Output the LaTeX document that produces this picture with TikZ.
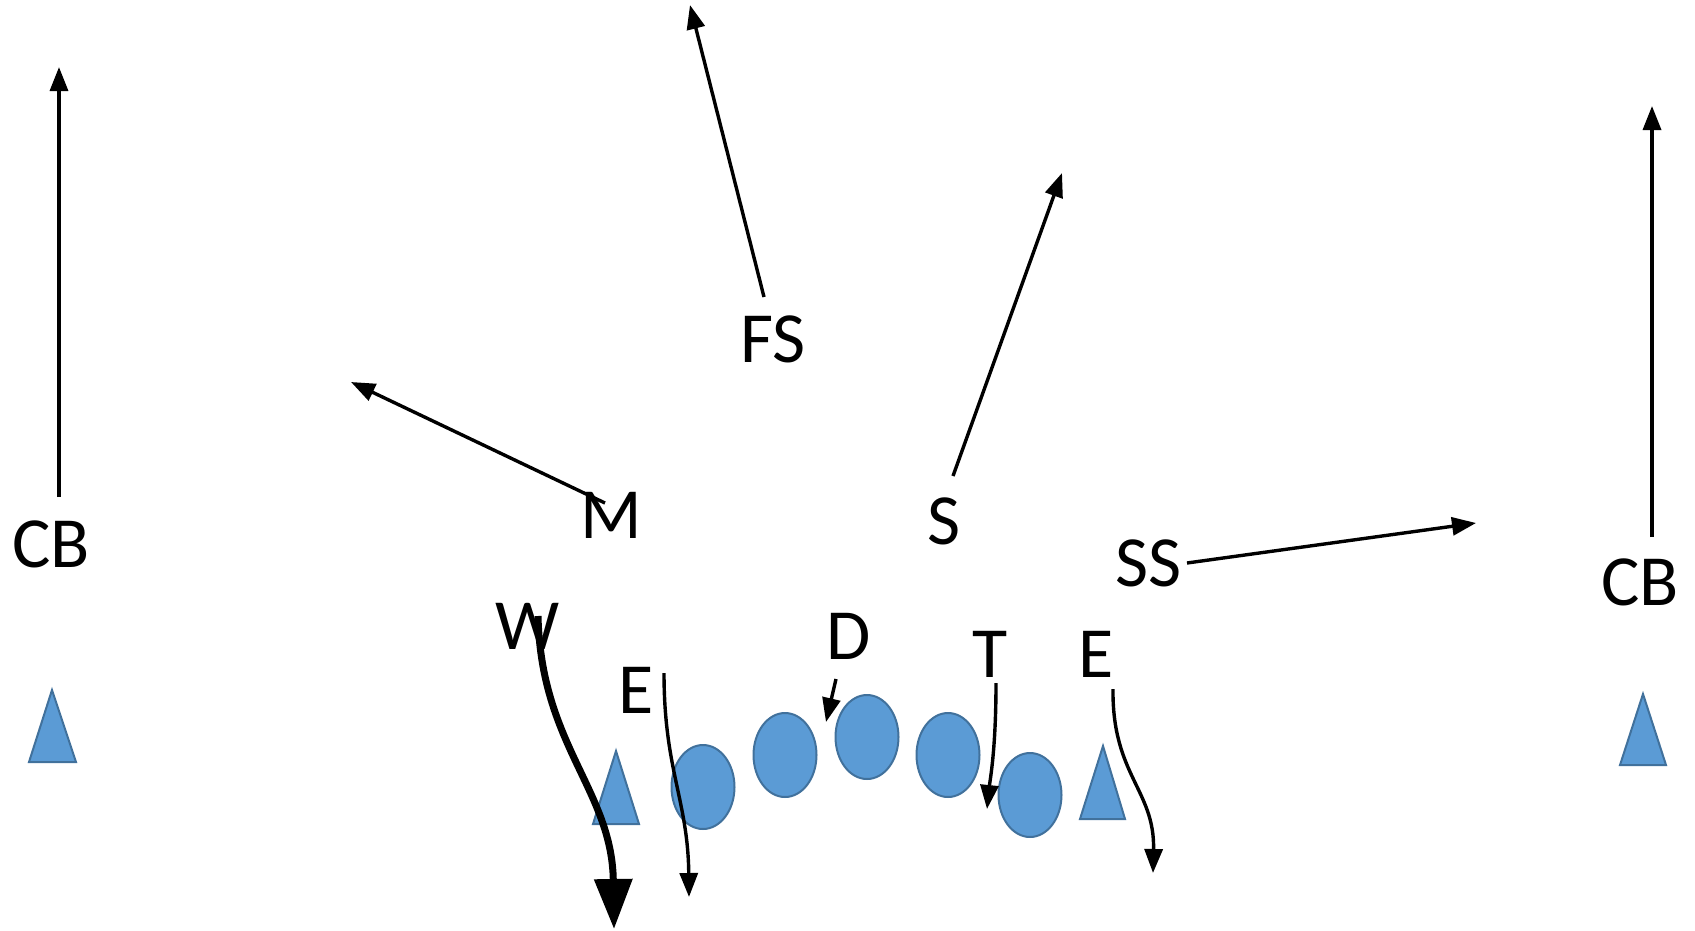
\documentclass[tikz,border=0pt]{standalone}
\usepackage{fontspec}
\setmainfont{Carlito}
\usetikzlibrary{arrows.meta,shapes.geometric}
\definecolor{pfill}{HTML}{5B9BD5}
\definecolor{pline}{HTML}{41719C}
\begin{document}
\begin{tikzpicture}[x=1pt,y=-1pt,
  lbl/.style={anchor=base,inner sep=0pt,font=\fontsize{72}{80}\selectfont},
  route/.style={line width=3.4pt,-{Triangle[length=24pt,width=18pt]}},
  bigroute/.style={line width=7pt,-{Triangle[length=50pt,width=37pt]}},
  player/.style={ellipse,draw=pline,fill=pfill,line width=2pt,minimum width=63pt,minimum height=84pt,inner sep=0pt},
  tri/.style={draw=pline,fill=pfill,line width=2pt,line join=miter}]
\useasboundingbox (0,0) rectangle (1695,930);
% labels
\node[lbl] (cbl) at (51,567) {CB};
\node[lbl] (m) at (611,538) {M};
\node[lbl] (fs) at (773,362) {FS};
\node[lbl] (s) at (944,544) {S};
\node[lbl] (ss) at (1149,586) {SS};
\node[lbl] (cbr) at (1640,605) {CB};
\node[lbl] (w) at (528,649) {W};
\node[lbl] (el) at (636,713) {E};
\node[lbl] (d) at (849,659) {D};
\node[lbl] (t) at (990,677) {T};
\node[lbl] (er) at (1096,677) {E};
% linemen
\node[player] (o1) at (703,787) {};
\node[player] (o2) at (785,755) {};
\node[player] (o3) at (867,737) {};
\node[player] (o4) at (948,755) {};
\node[player] (o5) at (1030,795) {};
% triangles
\draw[tri] (52,690) -- (76,762) -- (29,762) -- cycle;
\draw[tri] (616,751) -- (639,824) -- (593,824) -- cycle;
\draw[tri] (1103,746) -- (1125,819) -- (1080,819) -- cycle;
\draw[tri] (1643,694) -- (1666,765) -- (1620,765) -- cycle;
% route coordinates
\coordinate (cblS) at (59,497);   \coordinate (cblE) at (59,67);
\coordinate (mS) at (605,503);    \coordinate (mE) at (351,382);
\coordinate (fsS) at (764,297);   \coordinate (fsE) at (690,5);
\coordinate (sS) at (953,476);    \coordinate (sE) at (1062,173);
\coordinate (ssS) at (1187,563);  \coordinate (ssE) at (1476,523);
\coordinate (cbrS) at (1652,537); \coordinate (cbrE) at (1652,106);
\coordinate (wS) at (538,616);    \coordinate (wE) at (614,929);
\coordinate (elS) at (664,673);   \coordinate (elE) at (689,897);
\coordinate (dS) at (836,679);    \coordinate (dE) at (826,722);
\coordinate (tS) at (996,683);    \coordinate (tE) at (987,809);
\coordinate (erS) at (1113,689);  \coordinate (erE) at (1153,873);
% routes
\draw[route] (cblS) -- (cblE);
\draw[route] (mS) -- (mE);
\draw[route] (fsS) -- (fsE);
\draw[route] (sS) -- (sE);
\draw[route] (ssS) -- (ssE);
\draw[route] (cbrS) -- (cbrE);
\draw[bigroute] (wS) .. controls (541,745) and (612,790) .. (wE);
\draw[route] (elS) .. controls (664,770) and (688,800) .. (elE);
\draw[route] (dS) -- (dE);
\draw[route] (tS) .. controls (996,750) and (990,780) .. (tE);
\draw[route] (erS) .. controls (1112,775) and (1155,790) .. (erE);
\end{tikzpicture}
\end{document}
